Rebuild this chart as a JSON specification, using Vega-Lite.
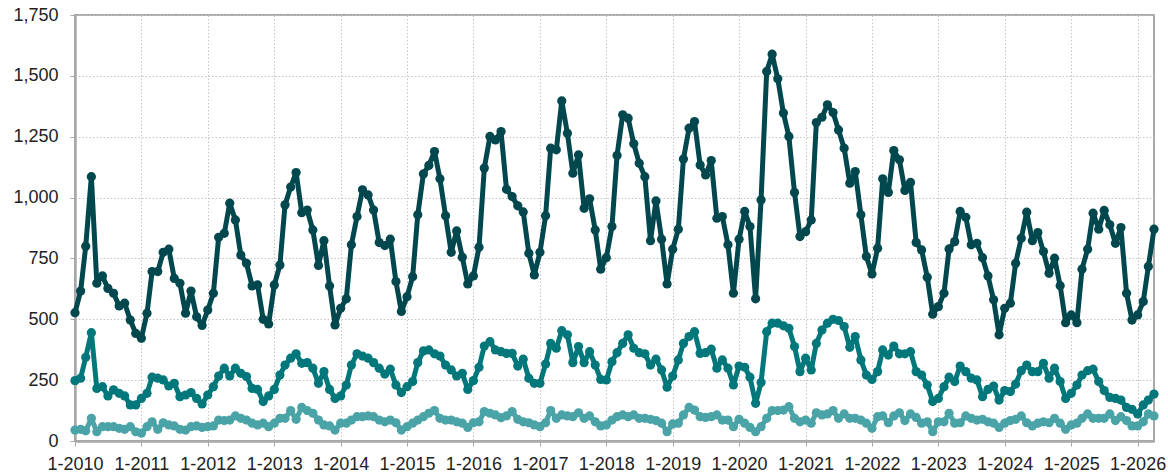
{
  "$schema": "https://vega.github.io/schema/vega-lite/v6.json",
  "autosize": {"type": "none"},
  "padding": {"left": 75, "top": 15, "right": 14, "bottom": 35},
  "width": 1079,
  "height": 426,
  "background": "white",
  "config": {
    "view": {"stroke": "#a8a8a8", "strokeWidth": 2},
    "axis": {
      "labelFont": "Liberation Sans",
      "labelFontSize": 18,
      "labelColor": "#222222",
      "domainColor": "#a8a8a8",
      "domainWidth": 2.5,
      "tickColor": "#a8a8a8",
      "tickSize": 5,
      "tickWidth": 1,
      "gridColor": "#c4c4c4",
      "gridDash": [1.5, 2],
      "gridWidth": 1,
      "title": null
    }
  },
  "data": {
    "values": [
      {"month": "2010-01", "top": 527, "mid": 248, "low": 45},
      {"month": "2010-02", "top": 616, "mid": 258, "low": 48},
      {"month": "2010-03", "top": 800, "mid": 344, "low": 42},
      {"month": "2010-04", "top": 1086, "mid": 445, "low": 93},
      {"month": "2010-05", "top": 648, "mid": 216, "low": 38},
      {"month": "2010-06", "top": 678, "mid": 223, "low": 59},
      {"month": "2010-07", "top": 627, "mid": 185, "low": 59},
      {"month": "2010-08", "top": 607, "mid": 210, "low": 59},
      {"month": "2010-09", "top": 555, "mid": 196, "low": 52},
      {"month": "2010-10", "top": 566, "mid": 185, "low": 48},
      {"month": "2010-11", "top": 497, "mid": 148, "low": 59},
      {"month": "2010-12", "top": 442, "mid": 148, "low": 38},
      {"month": "2011-01", "top": 422, "mid": 175, "low": 32},
      {"month": "2011-02", "top": 525, "mid": 196, "low": 59},
      {"month": "2011-03", "top": 696, "mid": 262, "low": 79},
      {"month": "2011-04", "top": 696, "mid": 258, "low": 48},
      {"month": "2011-05", "top": 775, "mid": 251, "low": 75},
      {"month": "2011-06", "top": 788, "mid": 226, "low": 66},
      {"month": "2011-07", "top": 668, "mid": 237, "low": 62},
      {"month": "2011-08", "top": 648, "mid": 182, "low": 48},
      {"month": "2011-09", "top": 525, "mid": 189, "low": 45},
      {"month": "2011-10", "top": 616, "mid": 199, "low": 59},
      {"month": "2011-11", "top": 510, "mid": 175, "low": 62},
      {"month": "2011-12", "top": 475, "mid": 152, "low": 56},
      {"month": "2012-01", "top": 538, "mid": 189, "low": 59},
      {"month": "2012-02", "top": 607, "mid": 223, "low": 62},
      {"month": "2012-03", "top": 837, "mid": 267, "low": 86},
      {"month": "2012-04", "top": 853, "mid": 299, "low": 84},
      {"month": "2012-05", "top": 977, "mid": 267, "low": 86},
      {"month": "2012-06", "top": 908, "mid": 299, "low": 103},
      {"month": "2012-07", "top": 764, "mid": 278, "low": 93},
      {"month": "2012-08", "top": 730, "mid": 265, "low": 86},
      {"month": "2012-09", "top": 637, "mid": 216, "low": 73},
      {"month": "2012-10", "top": 641, "mid": 212, "low": 66},
      {"month": "2012-11", "top": 500, "mid": 162, "low": 73},
      {"month": "2012-12", "top": 481, "mid": 185, "low": 59},
      {"month": "2013-01", "top": 641, "mid": 212, "low": 73},
      {"month": "2013-02", "top": 723, "mid": 271, "low": 93},
      {"month": "2013-03", "top": 970, "mid": 312, "low": 93},
      {"month": "2013-04", "top": 1043, "mid": 340, "low": 125},
      {"month": "2013-05", "top": 1103, "mid": 358, "low": 89},
      {"month": "2013-06", "top": 938, "mid": 319, "low": 138},
      {"month": "2013-07", "top": 949, "mid": 322, "low": 125},
      {"month": "2013-08", "top": 867, "mid": 299, "low": 114},
      {"month": "2013-09", "top": 721, "mid": 237, "low": 86},
      {"month": "2013-10", "top": 823, "mid": 285, "low": 66},
      {"month": "2013-11", "top": 637, "mid": 212, "low": 62},
      {"month": "2013-12", "top": 477, "mid": 175, "low": 45},
      {"month": "2014-01", "top": 545, "mid": 185, "low": 73},
      {"month": "2014-02", "top": 584, "mid": 230, "low": 73},
      {"month": "2014-03", "top": 806, "mid": 312, "low": 86},
      {"month": "2014-04", "top": 922, "mid": 358, "low": 100},
      {"month": "2014-05", "top": 1032, "mid": 349, "low": 100},
      {"month": "2014-06", "top": 1011, "mid": 340, "low": 103},
      {"month": "2014-07", "top": 949, "mid": 322, "low": 100},
      {"month": "2014-08", "top": 815, "mid": 299, "low": 86},
      {"month": "2014-09", "top": 803, "mid": 275, "low": 79},
      {"month": "2014-10", "top": 829, "mid": 295, "low": 86},
      {"month": "2014-11", "top": 655, "mid": 230, "low": 75},
      {"month": "2014-12", "top": 532, "mid": 199, "low": 45},
      {"month": "2015-01", "top": 593, "mid": 223, "low": 59},
      {"month": "2015-02", "top": 675, "mid": 244, "low": 73},
      {"month": "2015-03", "top": 929, "mid": 322, "low": 86},
      {"month": "2015-04", "top": 1097, "mid": 370, "low": 100},
      {"month": "2015-05", "top": 1132, "mid": 374, "low": 114},
      {"month": "2015-06", "top": 1189, "mid": 358, "low": 125},
      {"month": "2015-07", "top": 1077, "mid": 349, "low": 93},
      {"month": "2015-08", "top": 925, "mid": 312, "low": 86},
      {"month": "2015-09", "top": 775, "mid": 292, "low": 86},
      {"month": "2015-10", "top": 863, "mid": 267, "low": 79},
      {"month": "2015-11", "top": 755, "mid": 278, "low": 73},
      {"month": "2015-12", "top": 645, "mid": 212, "low": 56},
      {"month": "2016-01", "top": 678, "mid": 248, "low": 75},
      {"month": "2016-02", "top": 796, "mid": 303, "low": 79},
      {"month": "2016-03", "top": 1121, "mid": 390, "low": 121},
      {"month": "2016-04", "top": 1251, "mid": 408, "low": 114},
      {"month": "2016-05", "top": 1237, "mid": 374, "low": 107},
      {"month": "2016-06", "top": 1271, "mid": 367, "low": 96},
      {"month": "2016-07", "top": 1034, "mid": 360, "low": 103},
      {"month": "2016-08", "top": 1004, "mid": 360, "low": 121},
      {"month": "2016-09", "top": 966, "mid": 308, "low": 89},
      {"month": "2016-10", "top": 941, "mid": 336, "low": 79},
      {"month": "2016-11", "top": 771, "mid": 258, "low": 75},
      {"month": "2016-12", "top": 682, "mid": 237, "low": 66},
      {"month": "2017-01", "top": 775, "mid": 237, "low": 59},
      {"month": "2017-02", "top": 925, "mid": 316, "low": 75},
      {"month": "2017-03", "top": 1203, "mid": 401, "low": 125},
      {"month": "2017-04", "top": 1196, "mid": 381, "low": 93},
      {"month": "2017-05", "top": 1397, "mid": 453, "low": 107},
      {"month": "2017-06", "top": 1264, "mid": 436, "low": 103},
      {"month": "2017-07", "top": 1100, "mid": 322, "low": 100},
      {"month": "2017-08", "top": 1175, "mid": 388, "low": 116},
      {"month": "2017-09", "top": 956, "mid": 322, "low": 93},
      {"month": "2017-10", "top": 995, "mid": 367, "low": 103},
      {"month": "2017-11", "top": 867, "mid": 312, "low": 79},
      {"month": "2017-12", "top": 706, "mid": 253, "low": 62},
      {"month": "2018-01", "top": 753, "mid": 251, "low": 66},
      {"month": "2018-02", "top": 881, "mid": 326, "low": 86},
      {"month": "2018-03", "top": 1173, "mid": 363, "low": 100},
      {"month": "2018-04", "top": 1340, "mid": 401, "low": 107},
      {"month": "2018-05", "top": 1326, "mid": 436, "low": 100},
      {"month": "2018-06", "top": 1221, "mid": 381, "low": 107},
      {"month": "2018-07", "top": 1141, "mid": 363, "low": 93},
      {"month": "2018-08", "top": 1086, "mid": 358, "low": 93},
      {"month": "2018-09", "top": 823, "mid": 312, "low": 89},
      {"month": "2018-10", "top": 986, "mid": 336, "low": 84},
      {"month": "2018-11", "top": 829, "mid": 292, "low": 73},
      {"month": "2018-12", "top": 645, "mid": 221, "low": 38},
      {"month": "2019-01", "top": 788, "mid": 267, "low": 70},
      {"month": "2019-02", "top": 870, "mid": 333, "low": 73},
      {"month": "2019-03", "top": 1158, "mid": 401, "low": 107},
      {"month": "2019-04", "top": 1285, "mid": 429, "low": 138},
      {"month": "2019-05", "top": 1312, "mid": 449, "low": 127},
      {"month": "2019-06", "top": 1134, "mid": 360, "low": 100},
      {"month": "2019-07", "top": 1093, "mid": 363, "low": 97},
      {"month": "2019-08", "top": 1152, "mid": 377, "low": 100},
      {"month": "2019-09", "top": 915, "mid": 299, "low": 107},
      {"month": "2019-10", "top": 922, "mid": 333, "low": 86},
      {"month": "2019-11", "top": 806, "mid": 299, "low": 86},
      {"month": "2019-12", "top": 607, "mid": 230, "low": 59},
      {"month": "2020-01", "top": 829, "mid": 308, "low": 89},
      {"month": "2020-02", "top": 943, "mid": 303, "low": 73},
      {"month": "2020-03", "top": 881, "mid": 262, "low": 56},
      {"month": "2020-04", "top": 584, "mid": 155, "low": 38},
      {"month": "2020-05", "top": 990, "mid": 240, "low": 59},
      {"month": "2020-06", "top": 1518, "mid": 449, "low": 93},
      {"month": "2020-07", "top": 1589, "mid": 484, "low": 125},
      {"month": "2020-08", "top": 1488, "mid": 484, "low": 125},
      {"month": "2020-09", "top": 1347, "mid": 473, "low": 127},
      {"month": "2020-10", "top": 1251, "mid": 463, "low": 141},
      {"month": "2020-11", "top": 1021, "mid": 388, "low": 93},
      {"month": "2020-12", "top": 840, "mid": 285, "low": 79},
      {"month": "2021-01", "top": 860, "mid": 340, "low": 86},
      {"month": "2021-02", "top": 908, "mid": 292, "low": 73},
      {"month": "2021-03", "top": 1308, "mid": 401, "low": 116},
      {"month": "2021-04", "top": 1330, "mid": 456, "low": 107},
      {"month": "2021-05", "top": 1381, "mid": 484, "low": 111},
      {"month": "2021-06", "top": 1349, "mid": 500, "low": 125},
      {"month": "2021-07", "top": 1278, "mid": 495, "low": 93},
      {"month": "2021-08", "top": 1203, "mid": 470, "low": 111},
      {"month": "2021-09", "top": 1059, "mid": 385, "low": 93},
      {"month": "2021-10", "top": 1107, "mid": 429, "low": 93},
      {"month": "2021-11", "top": 929, "mid": 333, "low": 86},
      {"month": "2021-12", "top": 758, "mid": 271, "low": 73},
      {"month": "2022-01", "top": 686, "mid": 253, "low": 52},
      {"month": "2022-02", "top": 792, "mid": 285, "low": 100},
      {"month": "2022-03", "top": 1077, "mid": 374, "low": 103},
      {"month": "2022-04", "top": 1021, "mid": 353, "low": 75},
      {"month": "2022-05", "top": 1193, "mid": 390, "low": 103},
      {"month": "2022-06", "top": 1155, "mid": 358, "low": 116},
      {"month": "2022-07", "top": 1029, "mid": 358, "low": 84},
      {"month": "2022-08", "top": 1062, "mid": 367, "low": 111},
      {"month": "2022-09", "top": 815, "mid": 285, "low": 97},
      {"month": "2022-10", "top": 785, "mid": 271, "low": 73},
      {"month": "2022-11", "top": 673, "mid": 230, "low": 79},
      {"month": "2022-12", "top": 521, "mid": 162, "low": 38},
      {"month": "2023-01", "top": 552, "mid": 175, "low": 79},
      {"month": "2023-02", "top": 607, "mid": 223, "low": 79},
      {"month": "2023-03", "top": 789, "mid": 262, "low": 114},
      {"month": "2023-04", "top": 819, "mid": 244, "low": 73},
      {"month": "2023-05", "top": 943, "mid": 308, "low": 75},
      {"month": "2023-06", "top": 919, "mid": 285, "low": 103},
      {"month": "2023-07", "top": 806, "mid": 258, "low": 93},
      {"month": "2023-08", "top": 812, "mid": 251, "low": 86},
      {"month": "2023-09", "top": 753, "mid": 182, "low": 89},
      {"month": "2023-10", "top": 678, "mid": 212, "low": 79},
      {"month": "2023-11", "top": 580, "mid": 226, "low": 73},
      {"month": "2023-12", "top": 436, "mid": 168, "low": 56},
      {"month": "2024-01", "top": 545, "mid": 207, "low": 73},
      {"month": "2024-02", "top": 566, "mid": 203, "low": 84},
      {"month": "2024-03", "top": 730, "mid": 234, "low": 89},
      {"month": "2024-04", "top": 833, "mid": 289, "low": 103},
      {"month": "2024-05", "top": 940, "mid": 312, "low": 75},
      {"month": "2024-06", "top": 823, "mid": 285, "low": 62},
      {"month": "2024-07", "top": 856, "mid": 285, "low": 73},
      {"month": "2024-08", "top": 778, "mid": 319, "low": 79},
      {"month": "2024-09", "top": 689, "mid": 258, "low": 75},
      {"month": "2024-10", "top": 751, "mid": 299, "low": 93},
      {"month": "2024-11", "top": 638, "mid": 244, "low": 73},
      {"month": "2024-12", "top": 486, "mid": 175, "low": 48},
      {"month": "2025-01", "top": 518, "mid": 196, "low": 66},
      {"month": "2025-02", "top": 486, "mid": 230, "low": 73},
      {"month": "2025-03", "top": 706, "mid": 271, "low": 93},
      {"month": "2025-04", "top": 788, "mid": 289, "low": 111},
      {"month": "2025-05", "top": 936, "mid": 295, "low": 93},
      {"month": "2025-06", "top": 870, "mid": 244, "low": 93},
      {"month": "2025-07", "top": 947, "mid": 207, "low": 93},
      {"month": "2025-08", "top": 888, "mid": 179, "low": 111},
      {"month": "2025-09", "top": 812, "mid": 175, "low": 84},
      {"month": "2025-10", "top": 877, "mid": 168, "low": 100},
      {"month": "2025-11", "top": 607, "mid": 138, "low": 84},
      {"month": "2025-12", "top": 497, "mid": 130, "low": 62},
      {"month": "2026-01", "top": 518, "mid": 111, "low": 62},
      {"month": "2026-02", "top": 573, "mid": 148, "low": 79},
      {"month": "2026-03", "top": 717, "mid": 168, "low": 111},
      {"month": "2026-04", "top": 870, "mid": 193, "low": 103}
    ]
  },
  "transform": [
    {"fold": ["top", "mid", "low"], "as": ["series", "value"]}
  ],
  "mark": {
    "type": "line",
    "strokeWidth": 5,
    "strokeJoin": "round",
    "strokeCap": "round",
    "point": {"filled": true, "size": 85, "opacity": 1}
  },
  "encoding": {
    "x": {
      "field": "month",
      "type": "temporal",
      "scale": {
        "type": "utc",
        "nice": false,
        "domain": [
          {"year": 2010, "month": 1, "date": 1, "utc": true},
          {"year": 2026, "month": 4, "date": 1, "utc": true}
        ]
      },
      "axis": {
        "tickCount": {"interval": "year", "step": 1},
        "labelExpr": "utcFormat(datum.value, '%-m-%Y')",
        "labelPadding": 9,
        "grid": true,
        "labelOverlap": false,
        "labelFlush": false
      }
    },
    "y": {
      "field": "value",
      "type": "quantitative",
      "scale": {"domain": [0, 1750], "nice": false},
      "axis": {
        "values": [0, 250, 500, 750, 1000, 1250, 1500, 1750],
        "format": ",.0f",
        "labelPadding": 12,
        "grid": true
      }
    },
    "color": {
      "field": "series",
      "type": "nominal",
      "scale": {"domain": ["top", "mid", "low"], "range": ["#00474e", "#00777a", "#4aa3a7"]},
      "legend": null
    }
  }
}
